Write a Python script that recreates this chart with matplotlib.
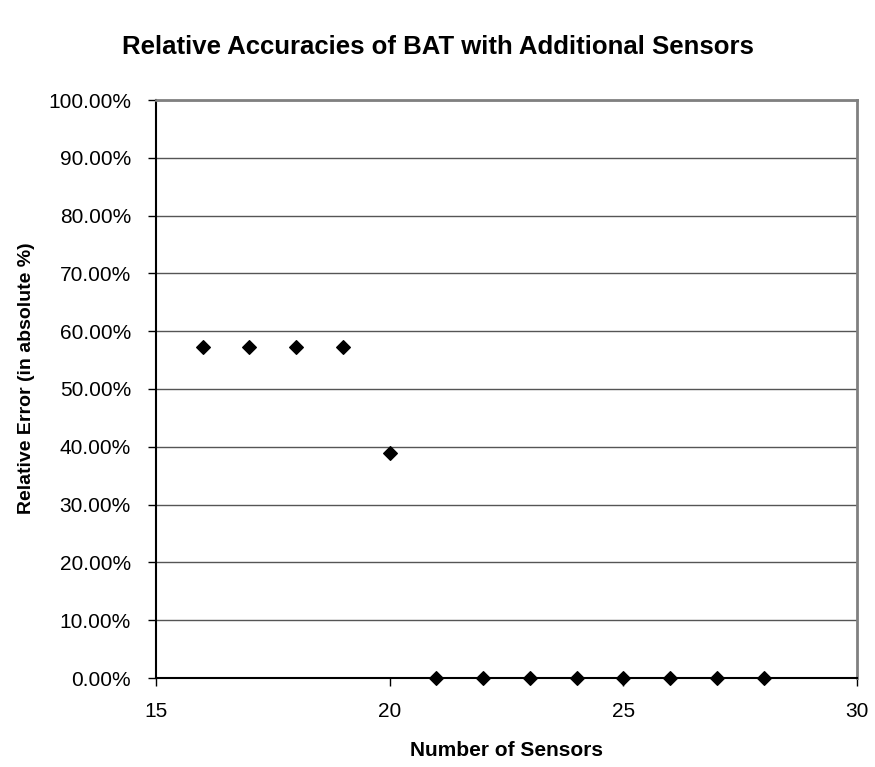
import matplotlib
matplotlib.use("Agg")
import matplotlib.pyplot as plt
from matplotlib.ticker import FuncFormatter, MultipleLocator

plt.rcParams['font.family'] = ['Liberation Sans', 'DejaVu Sans']

sensors = [16, 17, 18, 19, 20, 21, 22, 23, 24, 25, 26, 27, 28]
rel_error = [0.573, 0.573, 0.573, 0.573, 0.39, 0.0, 0.0, 0.0, 0.0, 0.0, 0.0, 0.0, 0.0]

W, H = 875, 767
L, R, T, B = 156, 857, 100, 678

fig = plt.figure(figsize=(W / 100, H / 100), dpi=100)
ax = fig.add_axes([L / W, 1 - B / H, (R - L) / W, (B - T) / H])

ax.scatter(sensors, rel_error, marker='D', s=48, color='black', zorder=3, clip_on=False)

ax.set_xlim(15, 30)
ax.set_ylim(0, 1.0)
ax.xaxis.set_major_locator(MultipleLocator(5))
ax.yaxis.set_major_locator(MultipleLocator(0.1))
ax.yaxis.set_major_formatter(FuncFormatter(lambda v, p: f"{v * 100:.2f}%"))

ax.grid(axis='y', color='#555555', linewidth=1.0)
ax.set_axisbelow(True)

for side in ('top', 'right'):
    ax.spines[side].set_color('#808080')
    ax.spines[side].set_linewidth(2)
for side in ('left', 'bottom'):
    ax.spines[side].set_color('black')
    ax.spines[side].set_linewidth(1.5)

ax.tick_params(axis='both', direction='out', length=6, width=1, colors='black',
               labelsize=15)
ax.tick_params(axis='y', pad=12)
ax.tick_params(axis='x', pad=11)

ax.set_xlabel('Number of Sensors', fontsize=15, fontweight='bold', va='center')
ax.xaxis.set_label_coords(0.5, (B - 750) / (B - T))
ax.set_ylabel('Relative Error (in absolute %)', fontsize=14, fontweight='bold', va='center')
ax.yaxis.set_label_coords((27 - L) / (R - L), (B - 378) / (B - T))
fig.suptitle('Relative Accuracies of BAT with Additional Sensors', fontsize=18.5,
             fontweight='bold', y=1 - 47 / H, va='center')

fig.savefig('out.png', dpi=100, facecolor='white')
